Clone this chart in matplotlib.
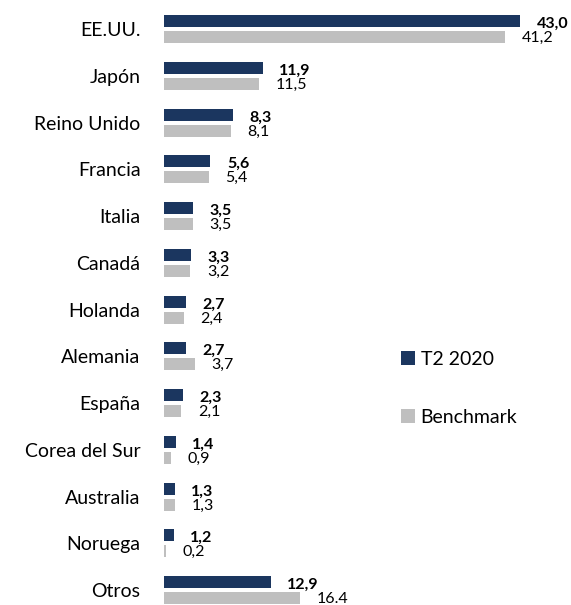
import numpy as np
import matplotlib
matplotlib.use('Agg')
import matplotlib.pyplot as plt

paises = ['EE.UU.', 'Japón', 'Reino Unido', 'Francia', 'Italia', 'Canadá', 'Holanda',
          'Alemania', 'España', 'Corea del Sur', 'Australia', 'Noruega', 'Otros']
t2_2020 = [43.0, 11.9, 8.3, 5.6, 3.5, 3.3, 2.7, 2.7, 2.3, 1.4, 1.3, 1.2, 12.9]
benchmark = [41.2, 11.5, 8.1, 5.4, 3.5, 3.2, 2.4, 3.7, 2.1, 0.9, 1.3, 0.2, 16.4]
# etiquetas tal como aparecen (Otros usa punto en el original)
t2_labels = ['43,0', '11,9', '8,3', '5,6', '3,5', '3,3', '2,7', '2,7', '2,3', '1,4', '1,3', '1,2', '12,9']
bm_labels = ['41,2', '11,5', '8,1', '5,4', '3,5', '3,2', '2,4', '3,7', '2,1', '0,9', '1,3', '0,2', '16.4']

azul = '#1b365f'
gris = '#bfbfbf'

plt.rcParams['font.family'] = ['Lato', 'DejaVu Sans']

W, H = 571, 605
fig = plt.figure(figsize=(W/100, H/100), dpi=100)
ax = fig.add_axes([164/W, 0, 405/W, 1])

px_x = 8.28   # pixels por unidad
row = 46.75   # pixels por fila
y0 = 29       # centro de la primera fila
ax.set_xlim(0, 405/px_x)
ax.set_ylim((H - y0)/row, -y0/row)

y = np.arange(len(paises))
off = 8/row
h = 12/row
ax.barh(y - off, t2_2020, height=h, color=azul, label='T2 2020')
ax.barh(y + off, benchmark, height=h, color=gris, label='Benchmark')

dx = 16.5/px_x
for i in range(len(paises)):
    ax.text(t2_2020[i] + dx, y[i] - off + 3/row, t2_labels[i], fontsize=11.5,
            fontweight='bold', va='center', ha='left', color='black')
    ax.text(benchmark[i] + dx, y[i] + off + 1/row, bm_labels[i], fontsize=11.5,
            va='center', ha='left', color='black')

ax.set_yticks(y)
ax.set_yticklabels(paises, fontsize=14)
ax.tick_params(axis='y', length=0, pad=17)
ax.set_xticks([])
for s in ax.spines.values():
    s.set_visible(False)

ax.legend(loc='upper left', bbox_to_anchor=(391/W, 1 - 341/H), bbox_transform=fig.transFigure,
          frameon=False, fontsize=14, handlelength=0.72, handleheight=0.72, handletextpad=0.3,
          labelspacing=2.1, borderpad=0)

fig.savefig('out.png', dpi=100)
